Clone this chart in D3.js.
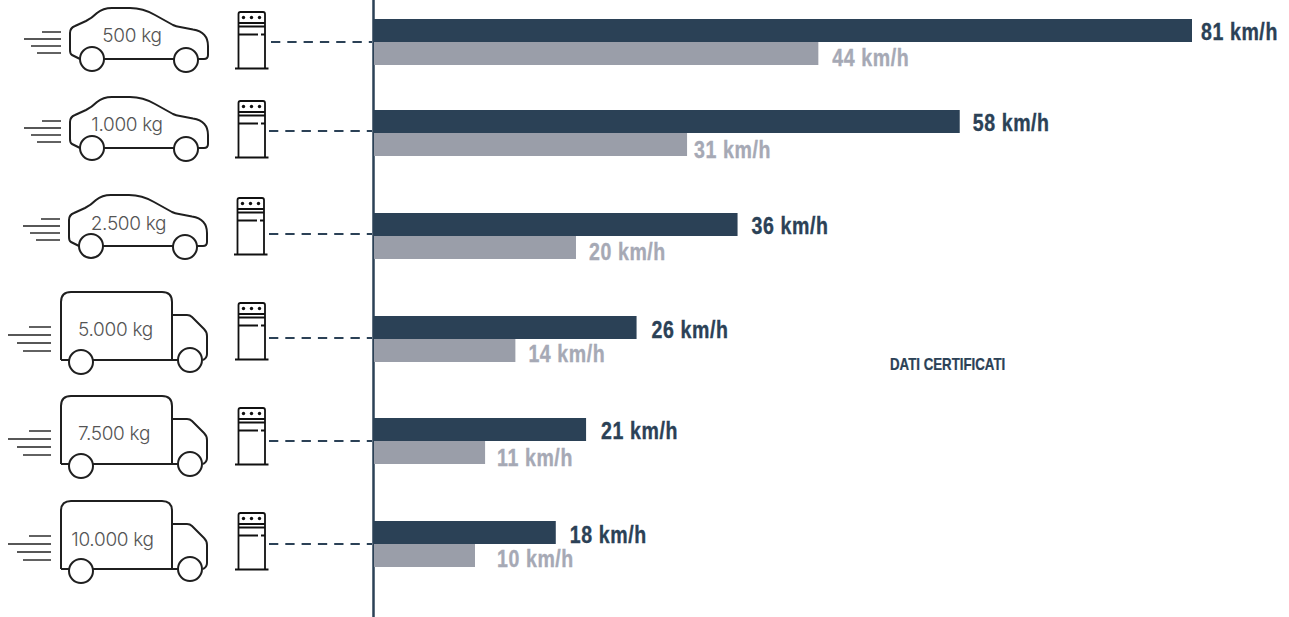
<!DOCTYPE html>
<html><head><meta charset="utf-8">
<script src="https://cdn.jsdelivr.net/npm/d3@7"></script>
<style>html,body{margin:0;padding:0;background:#fff}svg{display:block}
.val{font-family:"Liberation Sans",sans-serif;font-weight:700;font-size:23px;letter-spacing:.7px;stroke-width:.35px}
.kg{font-family:Inter,Roboto,sans-serif;font-weight:300;font-size:19px;fill:#555;letter-spacing:-.3px}
</style></head><body><svg id="c" width="1289" height="617"></svg>
<script>
const categories=["500 kg","1.000 kg","2.500 kg","5.000 kg","7.500 kg","10.000 kg"];
const vehicleType=["car","car","car","van","van","van"];
const speedDark=[81,58,36,26,21,18];
const speedGrey=[44,31,20,14,11,10];
const valueSuffix=" km/h";
const noteText="DATI CERTIFICATI";

// layout
const rowMid=[42,133,236,339,441,544];
const darkLabelGap=[9,13,14,15,15,14];
const greyLabelGap=[14,7,13,13,12,22];
const darkLabelBase=[40,131,234,338,439,543];
const greyLabelBase=[66,158,260,362,466,567];
const iconDy=[0,89,187,0,104,209];
const iconDx=[0,0,-1,0,0,0];
const pumpDy=[0,89,186,291,396,501];
const dashY=[42,131,234,338,441,544];
const dashX=[271,269,269,269,269,269];
const kgX=[132,127,128.5,115.5,114,112.5];
const kgBase=[42,131,230,336,440,546];

const DARK="#2b4156",GREY="#9a9ea9",GREYTXT="#a6a9b5",INK="#1f1f1f";
const svg=d3.select("#c");
const x=d3.scaleLinear().domain([0,81]).range([374,1192]);
const y=d3.scaleOrdinal().domain(categories).range(rowMid);
const barH=23;
const narrow=0.85;
const rows=categories.map((c,i)=>({c,i,d:speedDark[i],g:speedGrey[i],t:vehicleType[i]}));

// vehicle glyphs
const carBody="M80 59 L72 55 Q70 54 70 50 L70 33 Q70 28 75 26 L86 21 Q92 18 97 13 Q103 8 112 8 L130 8 Q143 8 155 15 L173 25 Q176 26.500 180 27 L193 29.500 Q208 32 208 46 L208 55 Q208 59 204 59 L198 59 M104 59 L174 59";
const carLines=[[42,32],[24,39],[31,46],[37,53]];
const vanBody="M61 360 L61 302 Q61 292 71 292 L162 292 Q172 292 172 302 L172 360 M172 315 L187 315 Q190 315 192 317 L204 329 Q207 332 207 336 L207 354 Q207 358 203 360 M61 360 L69 360 M93 360 L178 360";
const vanLines=[[29,327],[8,335],[17,343],[23,351]];

// axis rule
svg.append("line").attr("x1",373.500).attr("x2",373.500).attr("y1",0).attr("y2",617)
  .attr("stroke",DARK).attr("stroke-width",2.500);

// dashed connectors
svg.selectAll(".dash").data(rows).join("line").attr("class","dash")
  .attr("x1",d=>dashX[d.i]).attr("x2",372).attr("y1",d=>dashY[d.i]).attr("y2",d=>dashY[d.i])
  .attr("stroke",DARK).attr("stroke-width",1.800).attr("stroke-dasharray","9.300 7");

// bars
svg.selectAll(".bd").data(rows).join("rect").attr("class","bd")
  .attr("x",x(0)).attr("y",d=>y(d.c)-barH).attr("width",d=>x(d.d)-x(0)).attr("height",barH).attr("fill",DARK);
svg.selectAll(".bg").data(rows).join("rect").attr("class","bg")
  .attr("x",x(0)).attr("y",d=>y(d.c)).attr("width",d=>x(d.g)-x(0)).attr("height",barH).attr("fill",GREY);

// value labels
svg.selectAll(".ld").data(rows).join("text").attr("class","val ld")
  .attr("transform",d=>`translate(${x(d.d)+darkLabelGap[d.i]},${darkLabelBase[d.i]}) scale(${narrow},1)`).attr("fill",DARK).attr("stroke",DARK).text(d=>d.d+valueSuffix);
svg.selectAll(".lg").data(rows).join("text").attr("class","val lg")
  .attr("transform",d=>`translate(${x(d.g)+greyLabelGap[d.i]},${greyLabelBase[d.i]}) scale(${narrow},1)`).attr("fill",GREYTXT).attr("stroke",GREYTXT).text(d=>d.g+valueSuffix);

svg.append("text").attr("transform","translate(890,370) scale(0.83,1)").attr("fill",DARK).attr("stroke",DARK).attr("stroke-width",.25)
  .style("font-family",'"Liberation Sans",sans-serif').style("font-weight",700).style("font-size","16px")
  .text(noteText);

// vehicles
rows.forEach(d=>{
  const g=svg.append("g").attr("transform",`translate(${iconDx[d.i]},${iconDy[d.i]})`);
  const isCar=d.t==="car";
  g.append("path").attr("d",isCar?carBody:vanBody).attr("fill","none").attr("stroke",INK).attr("stroke-width",2).attr("stroke-linejoin","round");
  const wheels=isCar?[[92,59],[186,60]]:[[81,362],[190,360]];
  g.selectAll("circle").data(wheels).join("circle").attr("cx",w=>w[0]).attr("cy",w=>w[1]).attr("r",12)
    .attr("fill","#fff").attr("stroke",INK).attr("stroke-width",2);
  const ends=isCar?61:51;
  g.selectAll("line").data(isCar?carLines:vanLines).join("line")
    .attr("x1",l=>l[0]).attr("x2",ends).attr("y1",l=>l[1]).attr("y2",l=>l[1]).attr("stroke",INK).attr("stroke-width",1.400);
  svg.append("text").attr("class","kg").attr("text-anchor","middle").attr("x",kgX[d.i]).attr("y",kgBase[d.i]).text(d.c);

  // pump
  const p=svg.append("g").attr("transform",`translate(${iconDx[d.i]},${pumpDy[d.i]})`).attr("fill","none").attr("stroke","#111").attr("stroke-width",1.800);
  p.append("path").attr("d","M238.500 68 L238.500 14 Q238.500 12 240.500 12 L263 12 Q265 12 265 14 L265 68");
  p.append("path").attr("d","M235 68.500 L268.500 68.500").attr("stroke-width",2);
  p.append("path").attr("d","M238.500 23 L265 23 M238.500 26.500 L265 26.500 M238.500 34.500 L258 34.500 M261 34.500 L265 34.500");
  p.selectAll("circle").data([243.500,251.500,259.500]).join("circle").attr("cx",c=>c).attr("cy",17.500).attr("r",1.700).attr("fill","#111").attr("stroke","none");
});
</script></body></html>
